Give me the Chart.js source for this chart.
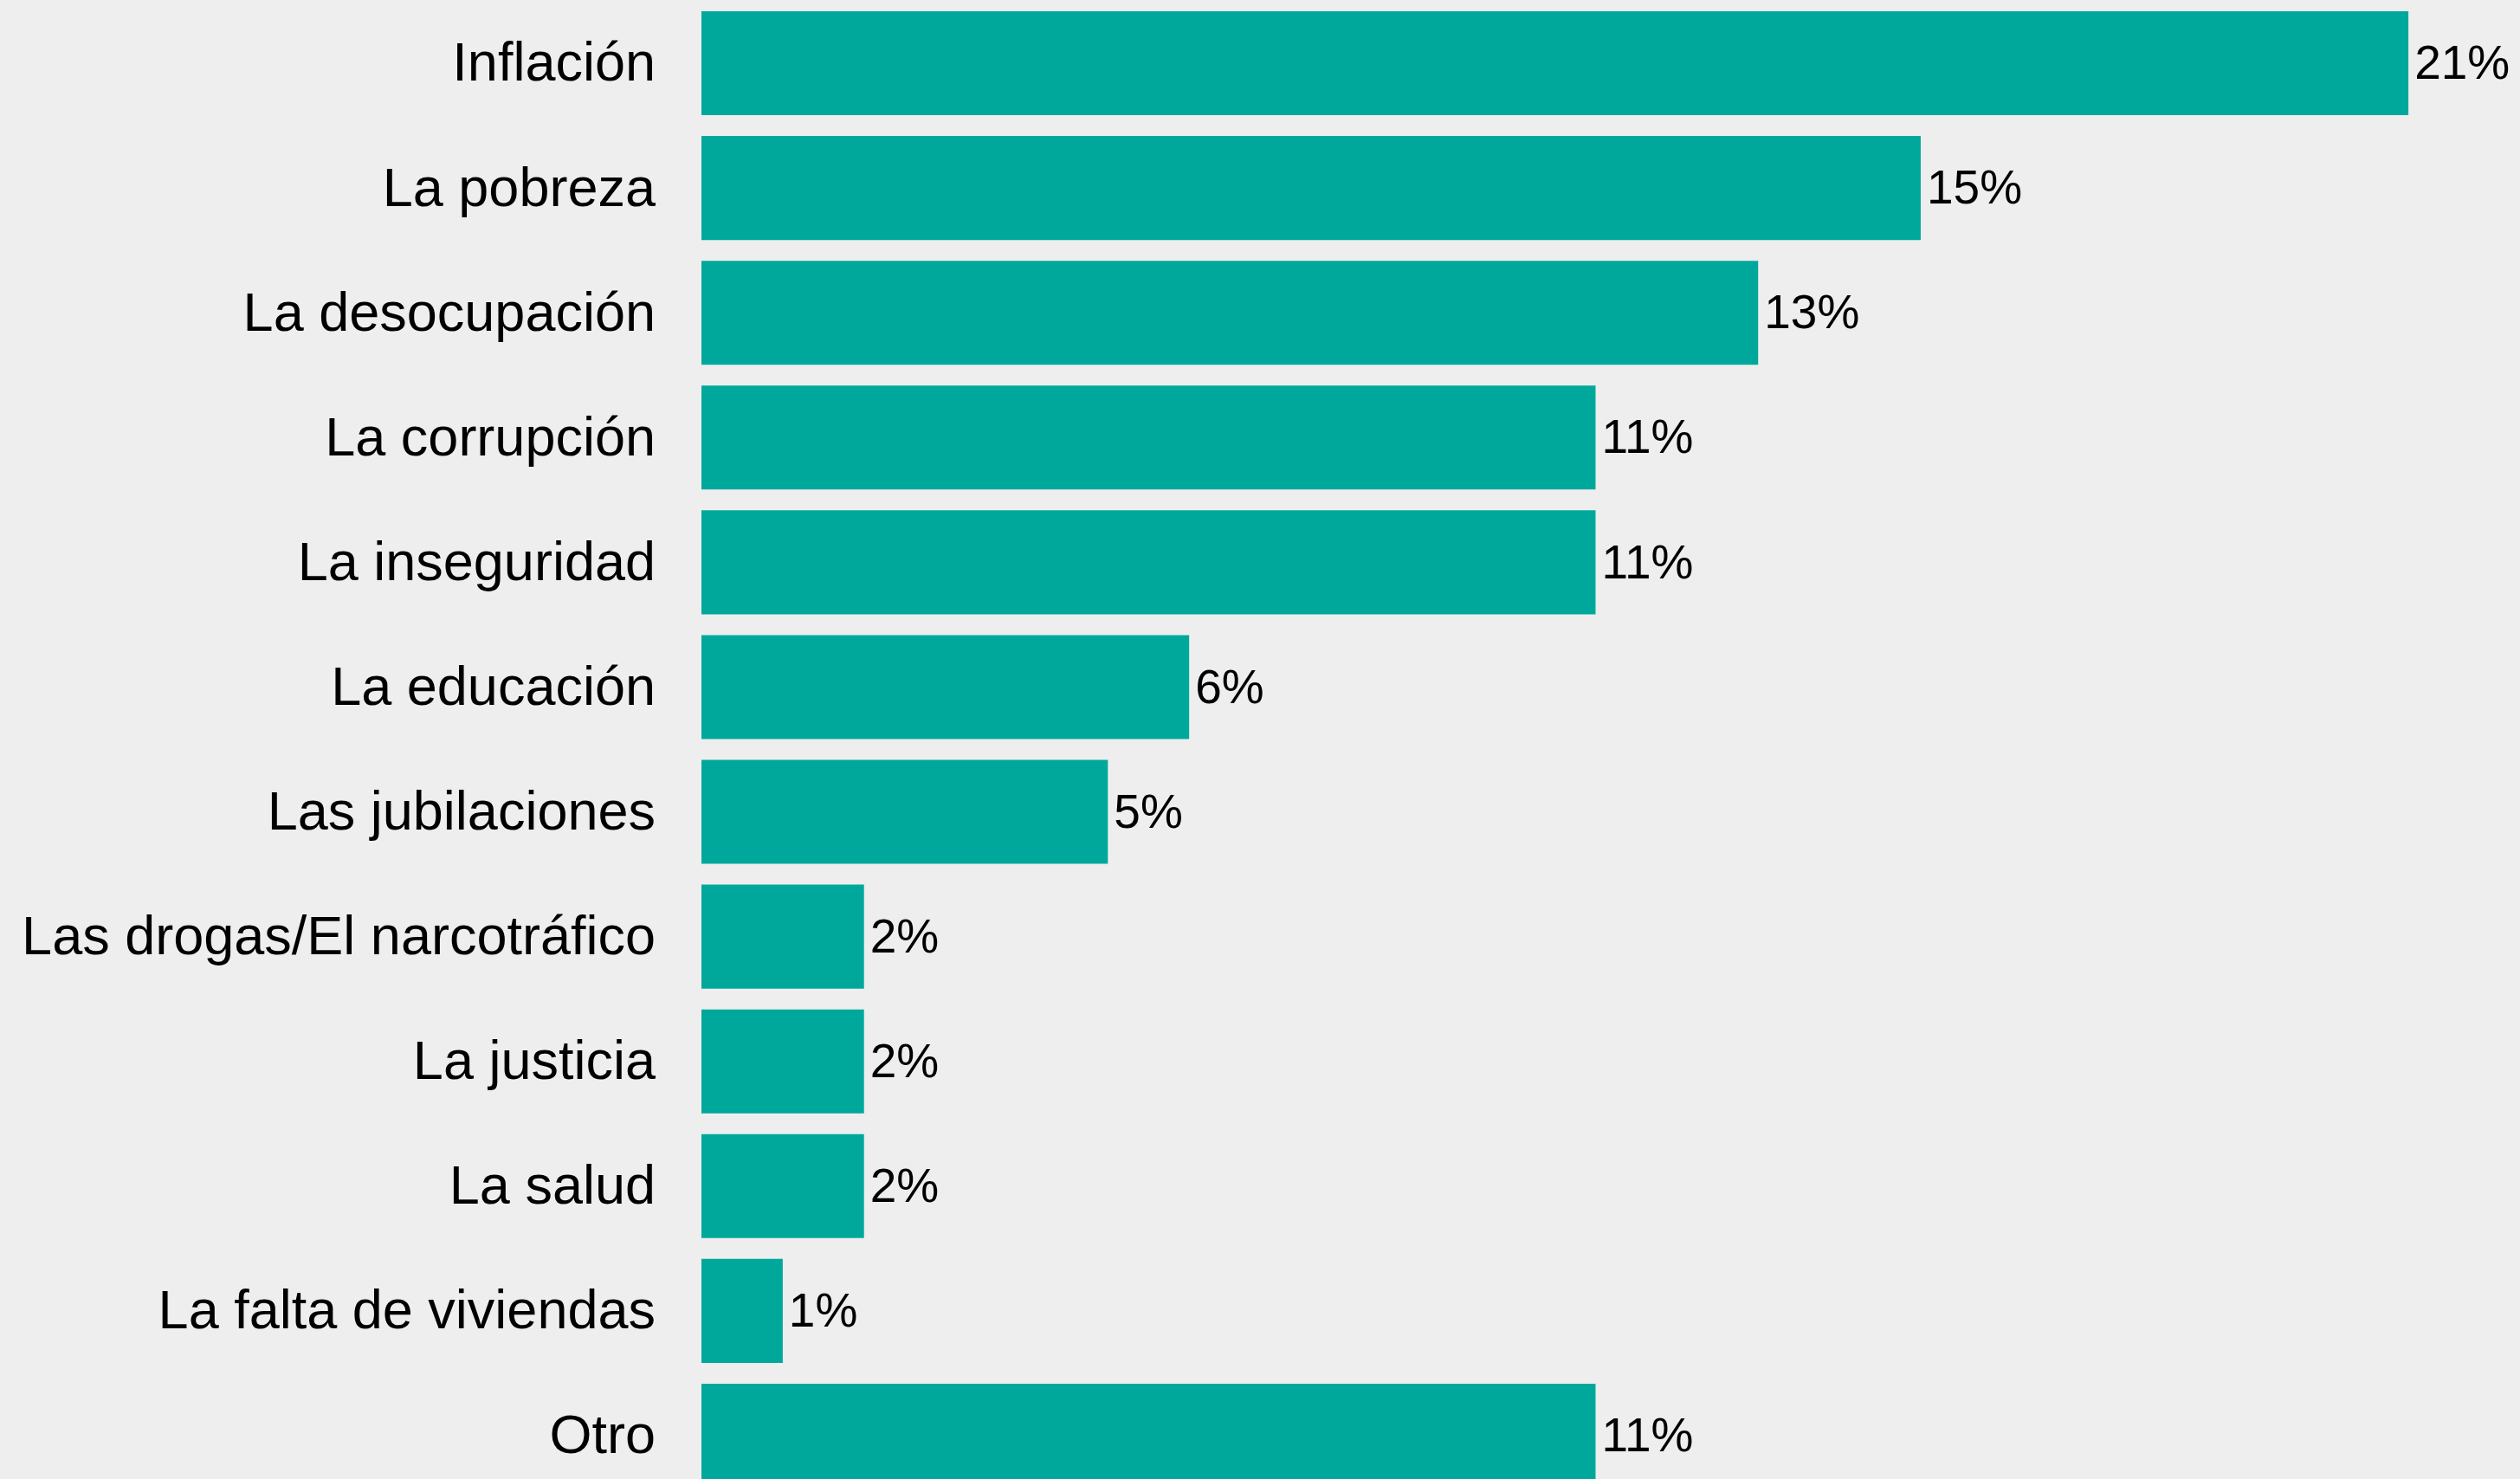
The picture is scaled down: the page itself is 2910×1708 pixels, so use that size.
<!DOCTYPE html>
<html lang="es">
<head>
  <meta charset="UTF-8">
  <title>Principales problemas</title>
  <script src="https://cdn.jsdelivr.net/npm/chart.js"></script>
  <style>
    html, body {
      margin: 0;
      padding: 0;
      background-color: #eeeeee;
      overflow: hidden;
    }
    #wrap {
      position: relative;
      width: 2910px;
      height: 1730px;
    }
  </style>
</head>
<body>
  <div id="wrap"><canvas id="problemasChart"></canvas></div>

  <script>
    const categorias = [
      'Inflación', 'La pobreza', 'La desocupación', 'La corrupción',
      'La inseguridad', 'La educación', 'Las jubilaciones',
      'Las drogas/El narcotráfico', 'La justicia', 'La salud',
      'La falta de viviendas', 'Otro'
    ];
    const porcentajes = [21, 15, 13, 11, 11, 6, 5, 2, 2, 2, 1, 11];

    const fuente = '"Liberation Sans", Arial, sans-serif';

    // etiquetas con el valor a la derecha de cada barra
    const etiquetas = {
      id: 'etiquetas',
      afterDatasetsDraw(chart) {
        const ctx = chart.ctx;
        const meta = chart.getDatasetMeta(0);
        ctx.save();
        ctx.font = '55px ' + fuente;
        ctx.fillStyle = '#000';
        ctx.textAlign = 'left';
        ctx.textBaseline = 'middle';
        meta.data.forEach((bar, i) => {
          ctx.fillText(porcentajes[i] + '%', bar.x + 7, bar.y + 3);
        });
        ctx.restore();
      }
    };

    const ctx = document.getElementById('problemasChart').getContext('2d');
    new Chart(ctx, {
      type: 'bar',
      data: {
        labels: categorias,
        datasets: [{
          data: porcentajes,
          backgroundColor: '#00a89c',
          barPercentage: 0.833,
          categoryPercentage: 1.0
        }]
      },
      options: {
        indexAxis: 'y',
        responsive: true,
        maintainAspectRatio: false,
        animation: false,
        layout: {
          padding: { top: 1, bottom: 0, left: 0, right: 35 }
        },
        plugins: {
          legend: { display: false },
          tooltip: { enabled: false }
        },
        scales: {
          x: {
            display: false,
            min: 0,
            max: 22
          },
          y: {
            afterFit(scale) {
              scale.width = 810;
              scale.paddingTop = 0;
              scale.paddingBottom = 0;
            },
            grid: { display: false, drawTicks: false },
            border: { display: false },
            ticks: {
              padding: 53,
              labelOffset: 3,
              autoSkip: false,
              color: '#000',
              font: { family: fuente, size: 63 }
            }
          }
        }
      },
      plugins: [etiquetas]
    });
  </script>
</body>
</html>
